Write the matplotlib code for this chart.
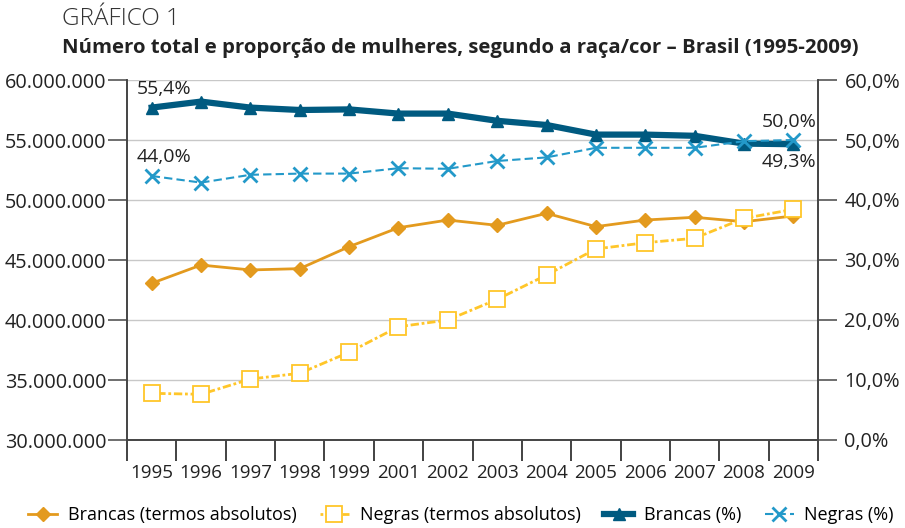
import numpy as np
import matplotlib
matplotlib.use('Agg')
from matplotlib import pyplot as plt
from matplotlib.ticker import FuncFormatter, FixedLocator

plt.rcParams['font.family'] = ['Open Sans', 'DejaVu Sans']

anos = ['1995', '1996', '1997', '1998', '1999', '2001', '2002', '2003',
        '2004', '2005', '2006', '2007', '2008', '2009']

# absolute numbers (left axis)
brancas_abs = [43060000, 44580000, 44170000, 44280000, 46110000, 47690000, 48330000,
               47890000, 48890000, 47780000, 48330000, 48560000, 48190000, 48670000]
negras_abs = [33890000, 33810000, 35080000, 35560000, 37310000, 39440000, 40000000,
              41720000, 43750000, 45920000, 46440000, 46810000, 48470000, 49220000]

# proportions (right axis, %)
brancas_pct = [55.4, 56.4, 55.4, 55.0, 55.1, 54.4, 54.4, 53.2, 52.5, 50.9, 50.9, 50.7, 49.4, 49.3]
negras_pct = [44.0, 42.9, 44.2, 44.4, 44.4, 45.3, 45.2, 46.5, 47.1, 48.7, 48.7, 48.7, 49.8, 50.0]

c_br_abs = '#E39A1E'
c_ng_abs = '#FFC629'
c_br_pct = '#005A80'
c_ng_pct = '#2399C9'
txt = '#222222'

fig = plt.figure(figsize=(9.05, 5.28), dpi=100)
ax = fig.add_axes([127/905, 1-440/528, (818-127)/905, 360/528])
ax2 = ax.twinx()

x = np.arange(len(anos))

l1, = ax.plot(x, brancas_abs, color=c_br_abs, lw=2, marker='D', ms=7,
              label='Brancas (termos absolutos)')
l2, = ax.plot(x, negras_abs, color=c_ng_abs, lw=2, ls=(0, (1, 1, 3, 1)), marker='s', ms=11,
              mfc='white', mec=c_ng_abs, mew=1.3, label='Negras (termos absolutos)')
l3, = ax2.plot(x, brancas_pct, color=c_br_pct, lw=4.5, marker='^', ms=8,
               label='Brancas (%)')
l4, = ax2.plot(x, negras_pct, color=c_ng_pct, lw=1.5, ls=(0, (4, 2)), marker='x', ms=10,
               mew=2, label='Negras (%)')

ax.set_xlim(-0.5, len(anos) - 0.5)
ax.set_ylim(30000000, 60000000)
ax.set_yticks(np.arange(30000000, 60000001, 5000000))
ax.yaxis.set_major_formatter(FuncFormatter(lambda v, p: '{:,.0f}'.format(v).replace(',', '.')))
ax2.set_ylim(0, 60)
ax2.set_yticks(np.arange(0, 61, 10))
ax2.yaxis.set_major_formatter(FuncFormatter(lambda v, p: '{:.1f}%'.format(v).replace('.', ',')))

ax.grid(axis='y', color='#c8c8c8', lw=1)
ax.set_axisbelow(True)

# category ticks between years, labels centred
ax.xaxis.set_major_locator(FixedLocator(np.arange(-0.5, len(anos))))
ax.xaxis.set_major_formatter(FuncFormatter(lambda v, p: ''))
ax.xaxis.set_minor_locator(FixedLocator(x))
ax.set_xticklabels(anos, minor=True)
ax.tick_params(axis='x', which='major', length=15, width=1.2, color='#222222')
ax.tick_params(axis='x', which='minor', length=0, pad=17, labelsize=13.5, labelcolor=txt)
ax.tick_params(axis='y', length=14, width=1.2, color='#555555', labelsize=14.3, labelcolor=txt, pad=1)
ax2.tick_params(axis='y', length=14, width=1.2, color='#555555', labelsize=14.3, labelcolor=txt, pad=5)

for a in (ax, ax2):
    a.spines['top'].set_visible(False)
    for s in ('left', 'right', 'bottom'):
        a.spines[s].set_color('#444444')
        a.spines[s].set_linewidth(1.2)

lbl = dict(textcoords='offset pixels', fontsize=14, color=txt, va='center')
ax2.annotate('55,4%', (x[0], brancas_pct[0]), xytext=(12, 19), ha='center', **lbl)
ax2.annotate('44,0%', (x[0], negras_pct[0]), xytext=(12, 19), ha='center', **lbl)
ax2.annotate('50,0%', (x[-1], negras_pct[-1]), xytext=(23, 18), ha='right', **lbl)
ax2.annotate('49,3%', (x[-1], brancas_pct[-1]), xytext=(23, -18), ha='right', **lbl)

fig.text(62/905, 1-19/528, 'GRÁFICO 1', fontsize=17.5, fontweight='light', color='#333333', va='center')
fig.text(62/905, 1-48/528, 'Número total e proporção de mulheres, segundo a raça/cor – Brasil (1995-2009)',
         fontsize=14.7, fontweight='bold', color=txt, va='center')

fig.legend(handles=[l1, l2, l3, l4], loc='center', bbox_to_anchor=(461/905, 1-515/528), ncol=4,
           frameon=False, fontsize=13, handlelength=1.6, columnspacing=1.3, handletextpad=0.6)

fig.savefig('out.png', dpi=100)
